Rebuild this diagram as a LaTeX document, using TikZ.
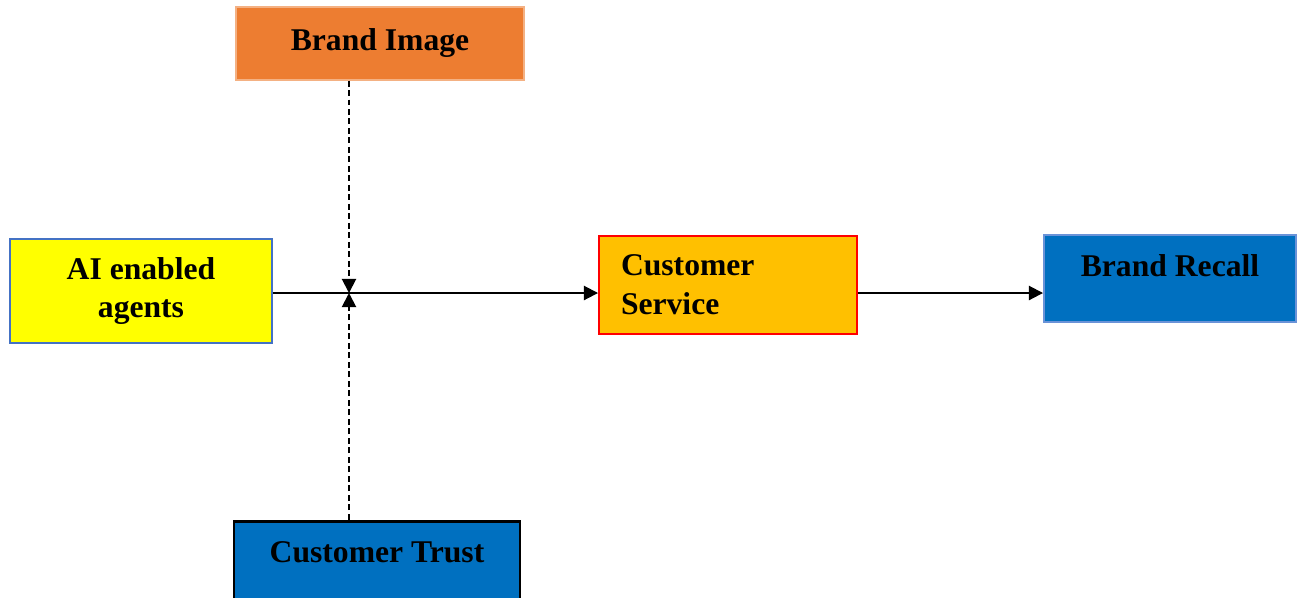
\documentclass[tikz,border=0pt]{standalone}
\usepackage{fontspec}
\setmainfont{Liberation Serif}
\usetikzlibrary{arrows.meta}
\definecolor{imgorange}{HTML}{ED7D31}
\definecolor{csamber}{HTML}{FFC000}
\definecolor{boxblue}{HTML}{0070C0}
\definecolor{edgeblue}{HTML}{4472C4}
\definecolor{paleblue}{HTML}{6A93D8}
\definecolor{paleorange}{HTML}{F4B183}
\definecolor{aiyellow}{HTML}{FFFF00}
\begin{document}
\begin{tikzpicture}[
  box/.style={rectangle,inner sep=0pt,font=\fontsize{18}{22}\selectfont\bfseries},
  link/.style={line width=1.1pt,-{Triangle[length=8pt,width=8pt]}},
  dlink/.style={link,dash pattern=on 3.4pt off 2pt}]
\clip (0,0) rectangle (26,-11.94);
\node[box,fill=imgorange,draw=paleorange,line width=0.6pt,minimum width=5.76cm,minimum height=1.46cm] (img) at (7.6,-0.87) {Brand Image};
\node[box,fill=aiyellow,draw=edgeblue,line width=1.1pt,minimum width=5.24cm,minimum height=2.08cm,align=center] (ai) at (2.82,-5.82) {AI enabled\\agents};
\node[box,fill=csamber,draw=red,line width=1.1pt,minimum width=5.16cm,minimum height=1.96cm,align=left,text width=4.28cm] (cs) at (14.56,-5.70) {Customer\\Service};
\node[box,fill=boxblue,draw=paleblue,line width=1.1pt,minimum width=5.04cm,minimum height=1.74cm,text depth=15pt] (br) at (23.4,-5.57) {Brand Recall};
\node[box,fill=boxblue,draw=black,line width=1.7pt,minimum width=5.72cm,minimum height=2cm,text depth=21.5pt] (ct) at (7.54,-11.42) {Customer Trust};
\coordinate (hub) at (6.98,-5.86);
\draw[link] (ai.east |- hub) -- (hub -| cs.west);
\draw[link] (hub -| cs.east) -- (hub -| br.west);
\draw[dlink] (img.south -| hub) -- (hub);
\draw[dlink] (ct.north -| hub) -- (hub);
\end{tikzpicture}
\end{document}
